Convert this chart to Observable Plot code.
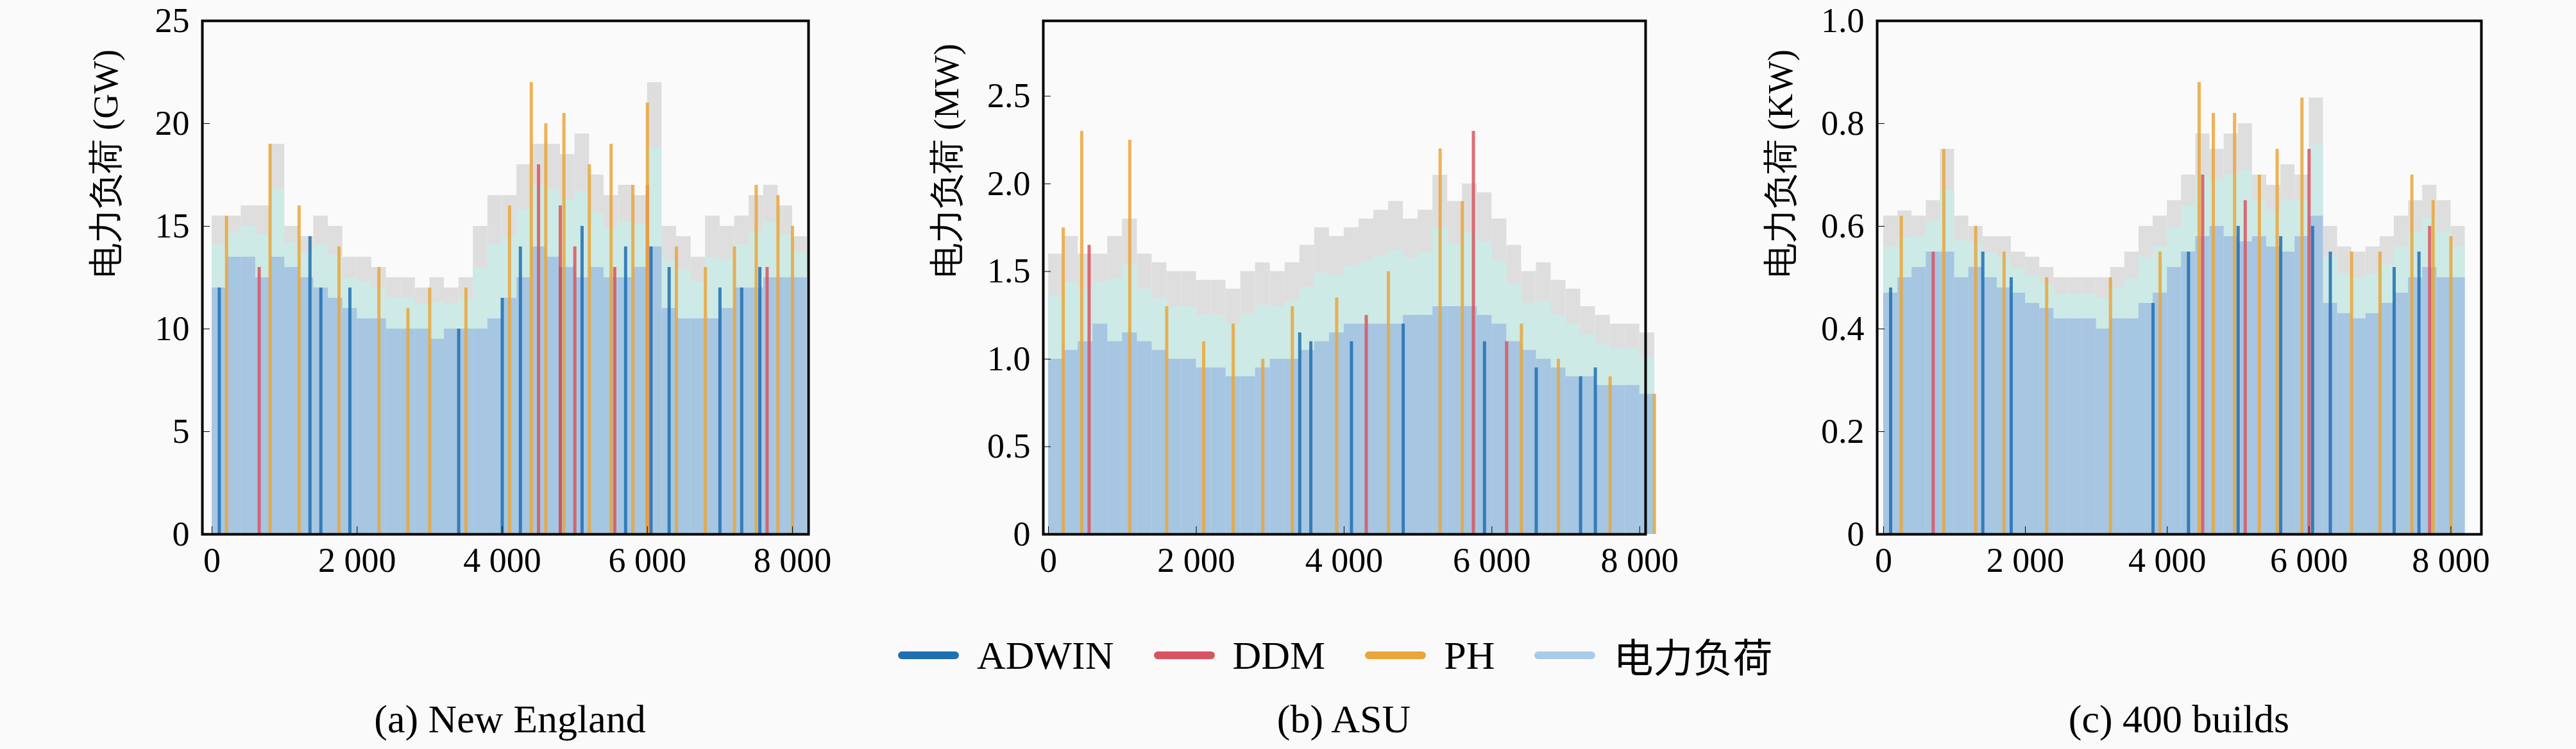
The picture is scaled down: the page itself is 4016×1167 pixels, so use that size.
<!DOCTYPE html>
<html><head><meta charset="utf-8">
<script src="https://cdn.jsdelivr.net/npm/d3@7"></script>
<script src="https://cdn.jsdelivr.net/npm/@observablehq/plot@0.6"></script>
<style>
body{margin:0;background:#fafafa;width:4016px;height:1167px;position:relative;font-family:"Liberation Serif","DejaVu Serif",serif;}
.p{position:absolute;top:0}
.p text{font-family:"Liberation Serif","DejaVu Serif",serif}
.cap{position:absolute;top:1085px;font-size:62px;transform:translateX(-50%);white-space:nowrap}
#legend{position:absolute;top:976px;left:1400px;font-size:62px;display:flex;align-items:center;white-space:nowrap}
#legend span.sw{display:inline-block;width:95px;height:12px;border-radius:6px;margin:0 28px 0 0}
#legend span.lb{margin-right:62px}
</style></head><body>
<div id="legend"></div>
<div class="cap" style="left:795px">(a) New England</div>
<div class="cap" style="left:2095px">(b) ASU</div>
<div class="cap" style="left:3397px">(c) 400 builds</div>
<script>
const binStart = d3.range(0, 8201, 200);
const binWidth = 200;
// Panel (a) New England, GW
const neBase = [12,13.5,13.5,12.5,13.5,13,12.5,12,11.5,11,10.5,10.5,10,10,10,9.5,10,10,10,10.5,11.5,12.5,14,13.5,13,12.5,13,12.5,12.5,13,14,11,10.5,10.5,10.5,11,12,12,12.5,12.5,12.5];
const nePeak = [15.5,15.5,16,16,19,15,14.5,15.5,15,13.5,13.5,13,12.5,12.5,12,12.5,12,12.5,15,16.5,16.5,18,19,19,18.5,19.5,17.5,16.5,17,16.5,22,15,14.5,13.5,15.5,15,15.5,16.5,17,16,14.5];
const neADWIN = [[100,12],[1350,14.5],[1500,12],[1900,12],[3400,10],[4000,11.5],[4250,14],[4800,13],[5100,15],[5700,14],[6050,14],[6300,13],[7000,12],[7300,12],[7550,13]];
const neDDM = [[650,13],[4500,18],[4800,16],[5000,14],[5550,13],[6000,17],[7650,13]];
const nePH = [[200,15.5],[800,19],[1200,16],[1750,14],[2300,13],[2700,11],[3000,12],[3500,12],[4100,16],[4400,22],[4600,20],[4850,20.5],[5200,18],[5500,19],[5800,17],[6000,21],[6400,14],[6800,13],[7200,14],[7500,17],[7800,16.5],[8000,15]];
// Panel (b) ASU, MW
const asuBase = [1.0,1.05,1.1,1.2,1.1,1.15,1.1,1.05,1.0,1.0,0.95,0.95,0.9,0.9,0.95,1.0,1.0,1.05,1.1,1.15,1.2,1.2,1.2,1.2,1.25,1.25,1.3,1.3,1.3,1.25,1.2,1.1,1.05,1.0,0.95,0.9,0.9,0.85,0.85,0.85,0.8];
const asuPeak = [1.6,1.7,1.6,1.6,1.7,1.8,1.6,1.55,1.5,1.5,1.45,1.45,1.4,1.5,1.55,1.5,1.55,1.65,1.75,1.7,1.75,1.8,1.85,1.9,1.8,1.85,2.05,1.9,2.0,1.95,1.8,1.65,1.5,1.55,1.45,1.4,1.3,1.25,1.2,1.2,1.15];
const asuADWIN = [[3400,1.15],[3550,1.1],[4100,1.1],[4800,1.2],[5900,1.1],[6600,0.95],[7200,0.9],[7400,0.95]];
const asuDDM = [[550,1.65],[4300,1.25],[5750,2.3],[6200,1.1]];
const asuPH = [[200,1.75],[450,2.3],[1100,2.25],[1600,1.3],[2100,1.1],[2500,1.2],[2900,1.0],[3300,1.3],[3900,1.35],[4600,1.5],[5300,2.2],[5600,1.9],[6400,1.2],[6900,1.0],[7600,0.9],[8200,0.8]];
// Panel (c) 400 builds, KW
const bldBase = [0.47,0.5,0.52,0.55,0.55,0.5,0.52,0.5,0.48,0.47,0.45,0.44,0.42,0.42,0.42,0.4,0.42,0.42,0.45,0.47,0.52,0.55,0.58,0.6,0.58,0.57,0.58,0.56,0.55,0.58,0.62,0.45,0.43,0.42,0.43,0.45,0.47,0.5,0.52,0.5,0.5];
const bldPeak = [0.62,0.63,0.62,0.65,0.75,0.62,0.6,0.58,0.58,0.55,0.54,0.52,0.5,0.5,0.5,0.5,0.52,0.55,0.6,0.62,0.65,0.7,0.78,0.75,0.78,0.8,0.7,0.68,0.72,0.7,0.85,0.6,0.56,0.55,0.56,0.58,0.62,0.65,0.68,0.65,0.6];
const bldADWIN = [[100,0.48],[1400,0.55],[1800,0.5],[3800,0.45],[4300,0.55],[5000,0.6],[5600,0.58],[6050,0.6],[6300,0.55],[7200,0.52],[7550,0.55]];
const bldDDM = [[700,0.55],[4500,0.7],[5100,0.65],[6000,0.75],[7700,0.6]];
const bldPH = [[250,0.62],[850,0.75],[1300,0.6],[1700,0.55],[2300,0.5],[3200,0.5],[3900,0.55],[4450,0.88],[4650,0.82],[4950,0.82],[5300,0.7],[5550,0.75],[5900,0.85],[6600,0.55],[7000,0.55],[7450,0.7],[7750,0.65],[8000,0.58]];

const seriesNames = ["ADWIN","DDM","PH","电力负荷"];
const colors = {ADWIN:"#1f6fb2", DDM:"#d9545f", PH:"#eaa63a", 电力负荷:"#a9cbe8"};

const xfmt = d => d===0 ? "0" : d3.format(",")(d).replace(",", " ");
const font = "'Liberation Serif','DejaVu Serif',serif";

function panel(opts){
  const {left, frameW, xdom, ydom, yticks, yfmt, label, base, peak, adwin, ddm, ph} = opts;
  const bins = binStart.map((s,i)=>({x1:s, x2:s+binWidth, base:base[i], peak:peak[i], mid:(base[i]+peak[i])/2 + (peak[i]-base[i])*0.1}));
  const lines = (arr,name)=>arr.map(([x,y])=>({x,y,name}));
  const all = [...lines(adwin,"ADWIN"),...lines(ddm,"DDM"),...lines(ph,"PH")];
  const W = frameW + 260;
  const ml = 200, mr = 60;
  const chart = Plot.plot({
    width: W, height: 940,
    marginLeft: ml, marginRight: mr, marginTop: 32, marginBottom: 108,
    style:{fontFamily:font, fontSize:"54px", background:"transparent", color:"#000"},
    x:{domain:xdom, ticks:[0,2000,4000,6000,8000], tickFormat:xfmt},
    y:{domain:ydom, ticks:yticks, tickFormat:yfmt},
    marks:[
      Plot.rectY(bins,{x1:"x1",x2:"x2",y:"peak",fill:"#dedede",inset:0}),
      Plot.rectY(bins,{x1:"x1",x2:"x2",y:"mid",fill:"#cdeae6",inset:0}),
      Plot.rectY(bins,{x1:"x1",x2:"x2",y:"base",fill:"#a6c6e2",inset:0}),
      Plot.ruleX(all,{x:"x",y1:0,y2:"y",stroke:d=>colors[d.name],strokeWidth:5,strokeOpacity:0.85}),
      Plot.frame({stroke:"#000",strokeWidth:4}),
      Plot.axisX({ticks:[0,2000,4000,6000,8000],tickFormat:xfmt,tickSize:-12,tickPadding:32,tickStrokeWidth:4,fontSize:54,fontFamily:font,label:null}),
      Plot.axisY({ticks:yticks,tickFormat:yfmt,tickSize:-12,tickPadding:32,tickStrokeWidth:4,fontSize:54,fontFamily:font,label:null}),
      Plot.text([label],{frameAnchor:"left",dx:-150,rotate:-90,fontSize:54,fontFamily:"'Liberation Serif','Noto Sans CJK SC',serif",text:d=>d})
    ]
  });
  chart.classList.add("p");
  chart.style.left = (left - ml) + "px";
  document.body.appendChild(chart);
}

panel({left:315, frameW:945, xdom:[-133,8221], ydom:[0,25], yticks:[0,5,10,15,20,25], yfmt:d=>String(d), label:"电力负荷 (GW)", base:neBase, peak:nePeak, adwin:neADWIN, ddm:neDDM, ph:nePH});
panel({left:1626, frameW:939, xdom:[-70,8080], ydom:[0,2.93], yticks:[0,0.5,1,1.5,2,2.5], yfmt:d=>d===0?"0":d.toFixed(1), label:"电力负荷 (MW)", base:asuBase, peak:asuPeak, adwin:asuADWIN, ddm:asuDDM, ph:asuPH});
panel({left:2926, frameW:942, xdom:[-90,8430], ydom:[0,1], yticks:[0,0.2,0.4,0.6,0.8,1], yfmt:d=>d===0?"0":d.toFixed(1), label:"电力负荷 (KW)", base:bldBase, peak:bldPeak, adwin:bldADWIN, ddm:bldDDM, ph:bldPH});

const lg = document.getElementById("legend");
seriesNames.forEach(n=>{
  const s=document.createElement("span"); s.className="sw"; s.style.background=colors[n]; lg.appendChild(s);
  const t=document.createElement("span"); t.className="lb"; t.textContent=n;
  if(n==="电力负荷") t.style.fontFamily="'Noto Sans CJK SC',serif";
  lg.appendChild(t);
});
</script>
</body></html>
